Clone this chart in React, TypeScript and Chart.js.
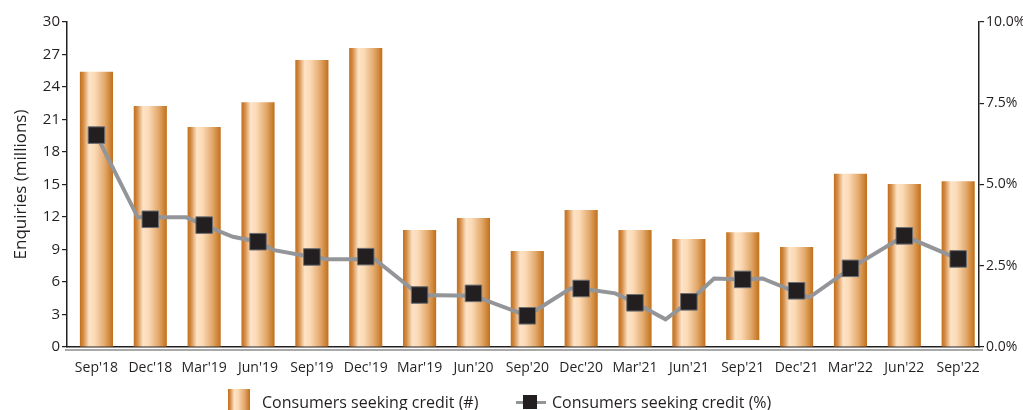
import React, { useEffect, useRef } from "react";
import { Chart, registerables } from "chart.js";

Chart.register(...registerables);

const labels = ["Sep'18", "Dec'18", "Mar'19", "Jun'19", "Sep'19", "Dec'19", "Mar'19", "Jun'20", "Sep'20", "Dec'20", "Mar'21", "Jun'21", "Sep'21", "Dec'21", "Mar'22", "Jun'22", "Sep'22"];
// months since Sep'18 for each quarter label
const labelMonths = [0, 3, 6, 9, 12, 15, 18, 21, 24, 27, 30, 33, 36, 39, 42, 45, 48];
// Enquiries (millions): bar top and bar bottom
const barHigh = [25.4, 22.25, 20.3, 22.6, 26.5, 27.6, 10.8, 11.9, 8.86, 12.65, 10.8, 9.97, 10.6, 9.23, 16.0, 15.05, 15.3];
const barLow = [0, 0, 0, 0, 0, 0, 0, 0, 0, 0, 0, 0, 0.65, 0, 0, 0, 0];
// Consumers seeking credit (%) at each quarter (markers)
const markerPct = [6.52, 3.93, 3.75, 3.24, 2.77, 2.78, 1.6, 1.65, 0.96, 1.8, 1.36, 1.39, 2.08, 1.73, 2.42, 3.42, 2.71];
// Line vertices: months since Sep'18 and %
const lineMonths = [0, 2.3, 5.0, 6.0, 7.6, 9.0, 9.9, 12.0, 12.9, 15.5, 18.0, 21.0, 24.0, 26.4, 27.0, 28.9, 30.0, 31.7, 33.0, 34.4, 36.0, 37.1, 39.7, 42.0, 45.0, 48.0];
const linePct = [6.52, 3.99, 3.99, 3.75, 3.39, 3.24, 2.98, 2.77, 2.7, 2.7, 1.6, 1.58, 0.96, 1.8, 1.8, 1.65, 1.36, 0.85, 1.39, 2.11, 2.08, 2.11, 1.52, 2.42, 3.42, 2.71];
const xRange = { min: -1.64, max: 49.16 };
const leftTicks = { min: 0, max: 30, step: 3 };
const rightTicks = { min: 0, max: 10, step: 2.5 };

const FONT = "'Open Sans', sans-serif";
const INK = "#231f20";
const BAR_PCT = 0.615;
const gradStops: [number, string][] = [
  [0, "#c06f1c"],
  [0.1, "#d48a43"],
  [0.28, "#fde3c6"],
  [0.45, "#fbdab6"],
  [0.75, "#e2a86b"],
  [0.92, "#cc8233"],
  [1, "#c06f1c"],
];

export default function App() {
  const ref = useRef<HTMLCanvasElement>(null);
  useEffect(() => {
    const canvas = ref.current!;
    const baseline = {
      id: "baseline",
      afterDraw(chart: any) {
        const { ctx, chartArea } = chart;
        ctx.save();
        ctx.strokeStyle = "#8c8c8c";
        ctx.lineWidth = 1.5;
        ctx.beginPath();
        ctx.moveTo(chartArea.left - 2, chartArea.bottom + 3);
        ctx.lineTo(chartArea.right + 4, chartArea.bottom + 3);
        ctx.stroke();
        ctx.restore();
      },
    };
    const chart = new Chart(canvas, {
      type: "bar",
      data: {
        datasets: [
          {
            type: "line",
            label: "markers",
            data: markerPct.map((v, i) => ({ x: labelMonths[i], y: v })),
            xAxisID: "x",
            yAxisID: "y1",
            showLine: false,
            pointStyle: "rect",
            pointRadius: 11.7,
            pointBackgroundColor: INK,
            pointBorderColor: "#6d6e71",
            pointBorderWidth: 1,
            order: 0,
          } as any,
          {
            type: "line",
            label: "line",
            data: lineMonths.map((m, i) => ({ x: m, y: linePct[i] })),
            xAxisID: "x",
            yAxisID: "y1",
            borderColor: "#939598",
            borderWidth: 4,
            pointRadius: 0,
            tension: 0,
            borderJoinStyle: "miter",
            order: 1,
          } as any,
          {
            type: "bar",
            label: "Consumers seeking credit (#)",
            data: labels.map((_, i) => ({ x: labelMonths[i], y: [barLow[i], barHigh[i]] })) as any,
            xAxisID: "x",
            yAxisID: "y",
            grouped: false,
            barPercentage: BAR_PCT,
            categoryPercentage: 1,
            borderWidth: 0,
            order: 2,
            backgroundColor: (c: any) => {
              const xs = c.chart.scales?.x;
              if (!xs || c.dataIndex === undefined || !isFinite(xs.width) || xs.width <= 0) return "#e0a060";
              const cx = xs.getPixelForValue(labelMonths[c.dataIndex]);
              const w = (xs.getPixelForValue(3) - xs.getPixelForValue(0)) * BAR_PCT;
              const g = c.chart.ctx.createLinearGradient(cx - w / 2, 0, cx + w / 2, 0);
              gradStops.forEach(([p, col]) => g.addColorStop(p, col));
              return g;
            },
          } as any,
        ],
      },
      options: {
        responsive: false,
        animation: false,
        devicePixelRatio: 1,
        layout: { padding: { top: 22, left: 0, right: 0, bottom: 0 } },
        plugins: { legend: { display: false }, tooltip: { enabled: false } },
        scales: {
          x: {
            type: "linear",
            min: xRange.min,
            max: xRange.max,
            offset: false,
            z: 1,
            grid: { display: false, drawTicks: false, offset: false },
            border: { display: true, color: INK, width: 1.5 },
            afterBuildTicks: (s: any) => { s.ticks = labelMonths.map((m) => ({ value: m })); },
            ticks: {
              color: INK,
              font: { family: FONT, size: 14 },
              padding: 13,
              maxRotation: 0,
              autoSkip: false,
              callback: (v: any) => labels[labelMonths.indexOf(Number(v))] ?? "",
            },
            afterFit: (s: any) => { s.height = 63; },
          },
          y: {
            position: "left",
            min: leftTicks.min,
            max: leftTicks.max,
            grid: { display: true, drawOnChartArea: false, drawTicks: true, tickLength: 5, color: INK, lineWidth: 1.2 },
            border: { display: true, color: INK, width: 1.5 },
            ticks: { stepSize: leftTicks.step, color: INK, font: { family: FONT, size: 15 }, padding: 2 },
            title: { display: true, text: "Enquiries (millions)", color: INK, font: { family: FONT, size: 17 }, padding: { top: 11, bottom: 0 } },
            afterFit: (s: any) => { s.width = 67; },
          },
          y1: {
            position: "right",
            min: rightTicks.min,
            max: rightTicks.max,
            grid: { display: true, drawOnChartArea: false, drawTicks: true, tickLength: 5, color: INK, lineWidth: 1.2 },
            border: { display: true, color: INK, width: 1.5 },
            ticks: { stepSize: rightTicks.step, color: INK, font: { family: FONT, size: 14 }, padding: 2, callback: (v: any) => Number(v).toFixed(1) + "%" },
            afterFit: (s: any) => { s.width = 44; },
          },
        },
      } as any,
      plugins: [baseline],
    });
    return () => chart.destroy();
  }, []);

  const swatchBg = `linear-gradient(to right, ${gradStops.map(([p, c]) => `${c} ${p * 100}%`).join(", ")})`;
  const textStyle: React.CSSProperties = { position: "absolute", top: 392, fontFamily: FONT, fontSize: 16, lineHeight: "20px", color: INK, whiteSpace: "nowrap" };
  return (
    <div style={{ position: "fixed", left: 0, top: 0, width: 1023, height: 410, overflow: "hidden", background: "#fff" }}>
      <canvas ref={ref} width={1023} height={410} style={{ position: "absolute", left: 0, top: 0 }} />
      <div style={{ position: "absolute", left: 228, top: 389, width: 22, height: 24, background: swatchBg }} />
      <div style={{ ...textStyle, left: 262 }}>Consumers seeking credit (#)</div>
      <div style={{ position: "absolute", left: 516, top: 401, width: 30, height: 3, background: "#939598" }} />
      <div style={{ position: "absolute", left: 523, top: 395, width: 14, height: 14, background: INK }} />
      <div style={{ ...textStyle, left: 552 }}>Consumers seeking credit (%)</div>
    </div>
  );
}
